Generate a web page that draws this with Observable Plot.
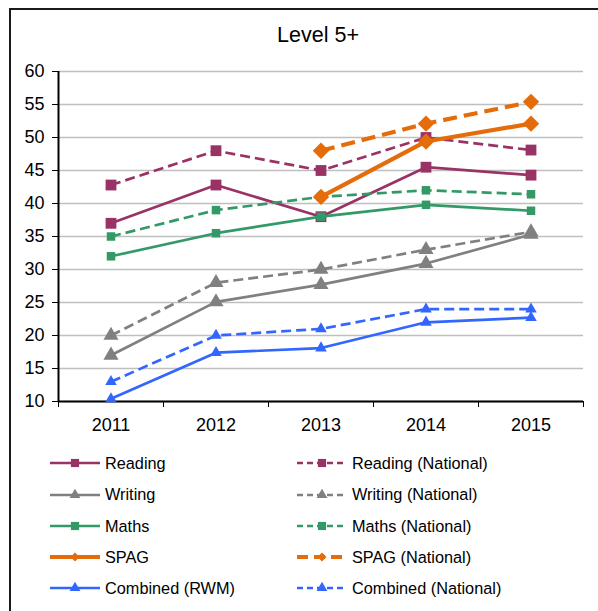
<!DOCTYPE html>
<html><head><meta charset="utf-8">
<script src="https://cdn.jsdelivr.net/npm/d3@7"></script>
<script src="https://cdn.jsdelivr.net/npm/@observablehq/plot@0.6"></script>
<style>
html,body{margin:0;padding:0;background:#fff;}
body{width:598px;height:611px;overflow:hidden;position:relative;font-family:"Liberation Sans",Arial,sans-serif;color:#000;}
#frame{position:absolute;left:9px;top:8px;width:700px;height:700px;border:2px solid #1a1a1a;box-sizing:border-box;}
#title{position:absolute;left:218px;width:200px;top:23px;text-align:center;font-size:21.5px;line-height:24px;}
#chart{position:absolute;left:0;top:50px;}
.leg{position:absolute;height:20px;display:flex;align-items:center;font-size:16.3px;white-space:nowrap;}
.leg svg{margin-right:5px;overflow:visible;}
</style>
</head><body>
<div id="frame"></div>
<div id="title">Level 5+</div>
<div id="chart"></div>
<div id="legend"></div>
<script>
const years = [2011, 2012, 2013, 2014, 2015];
const yTicks = [10, 15, 20, 25, 30, 35, 40, 45, 50, 55, 60];

const reading          = [37, 42.8, 38, 45.5, 44.3];
const readingNational  = [42.8, 48, 45, 50, 48.1];
const writing          = [17, 25.1, 27.7, 30.9, 35.3];
const writingNational  = [20, 28, 30, 33, 35.7];
const maths            = [32, 35.5, 38, 39.8, 38.9];
const mathsNational    = [35, 39, 41, 42, 41.4];
const spag             = [null, null, 41, 49.4, 52.1];
const spagNational     = [null, null, 48, 52.1, 55.4];
const combined         = [10.4, 17.4, 18.1, 22, 22.7];
const combinedNational = [13, 20, 21, 24, 24];

const seriesNames = ["Reading", "Reading (National)", "Writing", "Writing (National)", "Maths", "Maths (National)", "SPAG", "SPAG (National)", "Combined (RWM)", "Combined (National)"];
const seriesValues = [reading, readingNational, writing, writingNational, maths, mathsNational, spag, spagNational, combined, combinedNational];

const purple = "#993366", gray = "#808080", green = "#339966", orange = "#E46C0A", blue = "#3366FF";
const styles = [
  {color: purple, dash: null, symbol: "square", r: 6.1, w: 2.7, lr: 4.6},
  {color: purple, dash: "10,5", symbol: "square", r: 6.1, w: 2.7, lr: 4.6},
  {color: gray, dash: null, symbol: "triangle", r: 5.6, w: 2.7, lr: 4},
  {color: gray, dash: "10,5", symbol: "triangle", r: 5.6, w: 2.7, lr: 4},
  {color: green, dash: null, symbol: "square", r: 4.8, w: 2.7, lr: 4.6},
  {color: green, dash: "10,5", symbol: "square", r: 4.8, w: 2.7, lr: 4.6},
  {color: orange, dash: null, symbol: "diamond2", r: 7.4, w: 4.2, lr: 4},
  {color: orange, dash: "14,7", symbol: "diamond2", r: 7.4, w: 4.2, lr: 4},
  {color: blue, dash: null, symbol: "triangle", r: 4.3, w: 2.7, lr: 4},
  {color: blue, dash: "10,5", symbol: "triangle", r: 4.3, w: 2.7, lr: 4}
];

const boundaries = years.map(y => y - 0.5).concat([years[years.length - 1] + 0.5]);

const seriesMarks = seriesNames.flatMap((name, i) => {
  const st = styles[i];
  const data = years.map((year, j) => ({year, value: seriesValues[i][j]})).filter(d => d.value != null);
  return [
    Plot.line(data, {x: "year", y: "value", stroke: st.color, strokeWidth: st.w, strokeDasharray: st.dash || undefined, strokeLinecap: "butt"}),
    Plot.dot(data, {x: "year", y: "value", symbol: () => st.symbol, fill: st.color, stroke: "none", r: st.r})
  ];
});

const chart = Plot.plot({
  width: 598,
  height: 400,
  marginTop: 21,
  marginBottom: 49,
  marginLeft: 58,
  marginRight: 15,
  style: {fontSize: "18px", fontFamily: "'Liberation Sans', Arial, sans-serif", color: "#000", background: "transparent", overflow: "visible"},
  x: {domain: [boundaries[0], boundaries[boundaries.length - 1]]},
  y: {domain: [yTicks[0], yTicks[yTicks.length - 1]]},
  symbol: {type: "identity"},
  marks: [
    Plot.gridY({ticks: yTicks, stroke: "#BFBFBF", strokeOpacity: 1, strokeWidth: 1.5}),
    Plot.axisY({ticks: yTicks, tickSize: 6, tickPadding: 8, tickFormat: d => String(d), label: null}),
    Plot.axisX({ticks: boundaries, tickSize: 6, tickFormat: () => "", label: null}),
    Plot.axisX({ticks: years, tickSize: 0, tickPadding: 17, tickFormat: d => String(d), label: null}),
    Plot.ruleX([boundaries[0]], {stroke: "#000", strokeWidth: 2}),
    Plot.ruleY([yTicks[0]], {stroke: "#000", strokeWidth: 2}),
    ...seriesMarks
  ]
});
document.getElementById("chart").appendChild(chart);

// Legend
const legend = document.getElementById("legend");
const rowY = [463, 494.5, 526, 557, 588];
const colX = [50, 297];
const symPath = (sym, r) => {
  const map = {square: d3.symbolSquare, triangle: d3.symbolTriangle, diamond2: d3.symbolDiamond2};
  return d3.symbol(map[sym], Math.PI * r * r)();
};
seriesNames.forEach((name, i) => {
  const st = styles[i];
  const row = Math.floor(i / 2), col = i % 2;
  const div = document.createElement("div");
  div.className = "leg";
  div.style.left = colX[col] + "px";
  div.style.top = (rowY[row] - 10) + "px";
  const dash = st.dash ? (st.w > 3 ? "11,6" : "6,4") : null;
  div.innerHTML = `<svg width="50" height="20" viewBox="0 0 50 20">
    <line x1="0" x2="50" y1="10" y2="10" stroke="${st.color}" stroke-width="${st.w}" ${dash ? `stroke-dasharray="${dash}"` : ""}></line>
    <path transform="translate(25,10)" d="${symPath(st.symbol, st.lr)}" fill="${st.color}"></path>
  </svg><span>${name}</span>`;
  legend.appendChild(div);
});
</script>
</body></html>
